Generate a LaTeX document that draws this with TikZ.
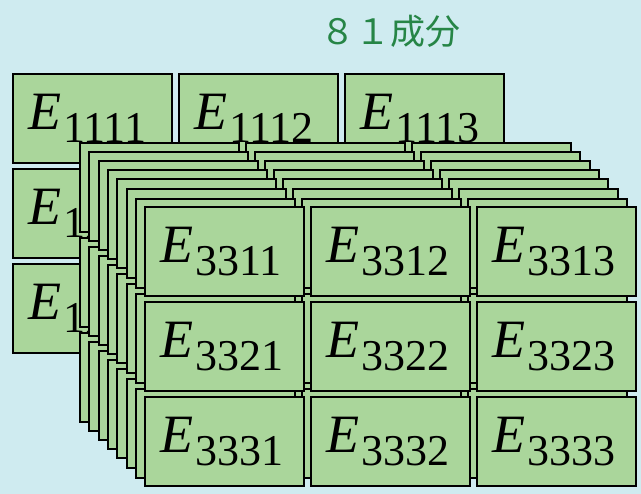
\documentclass[tikz,border=0pt]{standalone}
\usepackage{fontspec}
\setmainfont{Liberation Serif}
\newfontfamily\cjk{Noto Sans CJK JP}
\definecolor{bgblue}{RGB}{207,235,240}
\definecolor{boxgreen}{RGB}{170,214,155}
\definecolor{titlegreen}{RGB}{38,133,70}
\tikzset{
  cell/.style={draw=black, line width=1.9pt, fill=boxgreen, minimum width=159pt, minimum height=89pt, inner sep=0pt, anchor=north west},
  lbl/.style={anchor=base west, inner sep=0pt, text=black},
  titlestyle/.style={text=titlegreen, inner sep=0pt, font=\cjk\fontsize{35}{35}\selectfont}
}
\newcommand{\elabel}[1]{{\fontsize{54}{54}\selectfont\textit{E}}\kern2pt\raisebox{-13pt}{\fontsize{44}{44}\selectfont #1}}
\begin{document}
\begin{tikzpicture}[x=1pt,y=-1pt]
\fill[bgblue] (0,0) rectangle (641,494);
\useasboundingbox (0,0) rectangle (641,494);
\node[titlestyle] (title) at (390,31) {８１成分};
\foreach \lx/\ly/\lab/\show in {12/73/11/1, 79/142/12/0, 88/151/13/0, 98/160/21/0, 107/169/22/0, 116/178/23/0, 126/188/31/0, 135/198/32/0, 144/206/33/1}{
  \foreach \r in {1,2,3}{
    \foreach \c in {1,2,3}{
      \pgfmathsetmacro{\bx}{\lx+(\c-1)*166}
      \pgfmathsetmacro{\by}{\ly+(\r-1)*95}
      \node[cell] (b\lab\r\c) at (\bx,\by) {};
      \ifnum\show=1
        \node[lbl] (t\lab\r\c) at (\bx+16,\by+57) {\elabel{\lab\r\c}};
      \fi
    }
  }
}
\end{tikzpicture}
\end{document}
